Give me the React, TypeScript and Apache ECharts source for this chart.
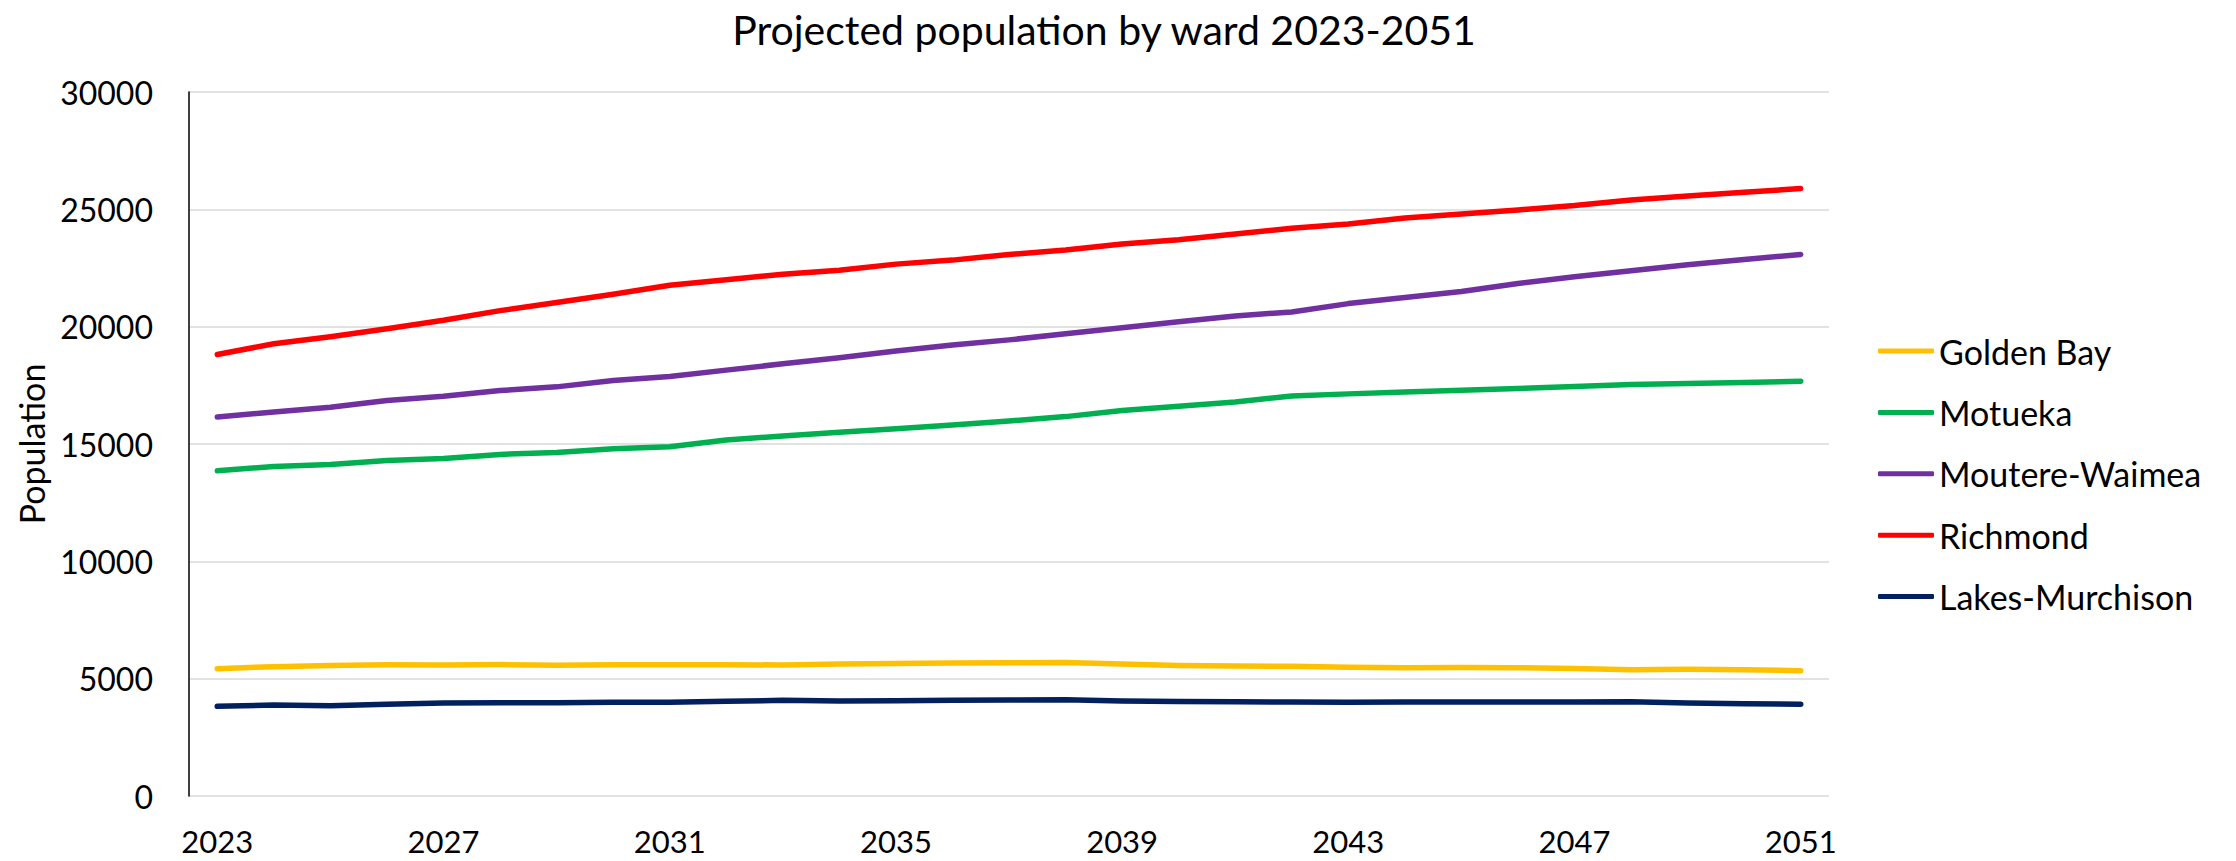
import React, { useEffect, useRef } from "react";
import * as echarts from "echarts";

const years = [
  "2023","2024","2025","2026","2027","2028","2029","2030","2031","2032",
  "2033","2034","2035","2036","2037","2038","2039","2040","2041","2042",
  "2043","2044","2045","2046","2047","2048","2049","2050","2051",
];

const goldenBay = [5426,5512,5560,5590,5583,5600,5575,5597,5597,5597,5583,5620,5650,5668,5680,5690,5620,5560,5540,5530,5490,5460,5480,5470,5430,5380,5400,5380,5341];
const motueka = [13858,14044,14129,14300,14386,14557,14642,14799,14884,15169,15340,15497,15654,15810,15980,16167,16423,16609,16794,17050,17136,17221,17293,17364,17449,17535,17578,17620,17677];
const moutereWaimea = [16152,16366,16566,16850,17036,17278,17435,17706,17877,18148,18418,18675,18960,19216,19437,19701,19957,20214,20456,20627,20983,21240,21496,21838,22123,22380,22636,22864,23078];
const richmond = [18817,19273,19572,19915,20270,20684,21026,21382,21767,21995,22237,22408,22665,22836,23078,23263,23520,23705,23947,24190,24375,24631,24802,24973,25159,25401,25572,25729,25885];
const lakesMurchison = [3821,3877,3849,3906,3963,3977,3977,3991,3991,4034,4076,4048,4062,4076,4090,4100,4050,4030,4020,4005,3991,4005,4005,4005,4005,4020,3963,3934,3906];

const seriesNames = ["Golden Bay", "Motueka", "Moutere-Waimea", "Richmond", "Lakes-Murchison"];
const seriesColors = ["#FFC000", "#00B050", "#7030A0", "#FF0000", "#002060"];
const seriesData = [goldenBay, motueka, moutereWaimea, richmond, lakesMurchison];

const FONT = "Lato";

export default function App() {
  const ref = useRef<HTMLDivElement>(null);
  useEffect(() => {
    document.body.style.margin = "0";
    if (!ref.current) return;
    const chart = echarts.init(ref.current, undefined, { renderer: "svg" });
    chart.setOption({
      animation: false,
      backgroundColor: "#ffffff",
      title: {
        text: "Projected population by ward 2023-2051",
        left: 1099,
        top: 4,
        textAlign: "center",
        textStyle: { fontFamily: FONT, fontSize: 41, fontWeight: "normal", color: "#000000" },
      },
      legend: {
        orient: "vertical",
        left: 1873,
        top: 326,
        itemWidth: 56,
        itemHeight: 5,
        itemGap: 21.4,
        icon: "roundRect",
        data: seriesNames,
        textStyle: { fontFamily: FONT, fontSize: 34, color: "#000000", lineHeight: 40 },
      },
      grid: { left: 189, right: 407, top: 92, bottom: 65, containLabel: false },
      xAxis: {
        type: "category",
        data: years,
        boundaryGap: true,
        axisLine: { show: false },
        axisTick: { show: false },
        axisLabel: {
          interval: 3,
          margin: 32,
          fontFamily: FONT,
          fontSize: 31,
          lineHeight: 26,
          color: "#000000",
        },
        splitLine: { show: false },
      },
      yAxis: {
        type: "value",
        min: 0,
        max: 30000,
        interval: 5000,
        name: "Population",
        nameLocation: "middle",
        nameGap: 141,
        nameTextStyle: { fontFamily: FONT, fontSize: 34, color: "#000000" },
        axisLine: { show: true, lineStyle: { color: "#000000", width: 1.5 } },
        axisTick: { show: false },
        axisLabel: {
          margin: 36,
          fontFamily: FONT,
          fontSize: 32,
          color: "#000000",
          formatter: (v: number) => String(v),
        },
        splitLine: { show: true, lineStyle: { color: "#D9D9D9", width: 1.5 } },
      },
      series: seriesNames.map((name, i) => ({
        name,
        type: "line",
        data: seriesData[i],
        symbol: "none",
        showSymbol: false,
        color: seriesColors[i],
        lineStyle: { color: seriesColors[i], width: 5.5, cap: "round", join: "round" },
        itemStyle: { color: seriesColors[i] },
      })),
    });
    return () => chart.dispose();
  }, []);
  return <div ref={ref} style={{ width: 2236, height: 861 }} />;
}
